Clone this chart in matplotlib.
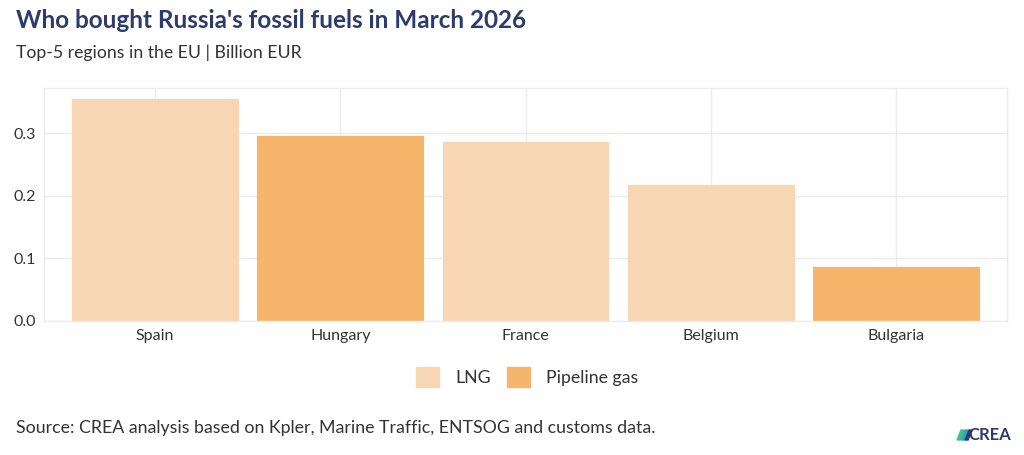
import matplotlib.pyplot as plt
from matplotlib.patches import Patch, Polygon

plt.rcParams['font.family'] = ['Lato', 'DejaVu Sans']

# ------------------ DATA ------------------ #
countries = ["Spain", "Hungary", "France", "Belgium", "Bulgaria"]
values = [0.354, 0.295, 0.285, 0.217, 0.086]
fuel = ["LNG", "Pipeline gas", "LNG", "LNG", "Pipeline gas"]

colors = {"LNG": "#f9d6b3", "Pipeline gas": "#f5b56b"}
navy = "#2d3b6c"
grid_c = "#ececec"

fig = plt.figure(figsize=(10.24, 4.55), dpi=100)
ax = fig.add_axes([44 / 1024, 1 - 321 / 455, (1007 - 44) / 1024, (321 - 88) / 455])

x = list(range(len(countries)))
ax.bar(x, values, width=0.895, color=[colors[f] for f in fuel],
       edgecolor=[colors[f] for f in fuel], linewidth=0.8, zorder=2)

ax.set_xlim(-0.6, 4.6)
ax.set_ylim(0, 0.372)
ax.set_yticks([0, 0.1, 0.2, 0.3])
ax.set_yticklabels(["0.0", "0.1", "0.2", "0.3"])
ax.set_xticks(x)
ax.set_xticklabels(countries)
ax.grid(True, color=grid_c, linewidth=1, zorder=0)
ax.tick_params(length=0, labelsize=11.5, labelcolor="#333333", pad=6)
for s in ax.spines.values():
    s.set_color(grid_c)
    s.set_linewidth(1)

# titles
fig.text(16 / 1024, 1 - 20 / 455, "Who bought Russia's fossil fuels in March 2026",
         fontsize=17.5, fontweight="bold", color=navy, va="center")
fig.text(16 / 1024, 1 - 53 / 455, "Top-5 regions in the EU | Billion EUR",
         fontsize=12.7, color="#333333", va="center")

# legend
handles = [Patch(facecolor=colors[k], edgecolor=colors[k], label=k) for k in ["LNG", "Pipeline gas"]]
fig.legend(handles=handles, loc="center", bbox_to_anchor=(0.515, 1 - 377 / 455),
           ncol=2, frameon=False, fontsize=12.8, handlelength=1.3, handleheight=1.3,
           columnspacing=0.9, handletextpad=0.9, labelcolor="#333333")

# source
fig.text(16 / 1024, 1 - 428 / 455,
         "Source: CREA analysis based on Kpler, Marine Traffic, ENTSOG and customs data.",
         fontsize=12.8, color="#333333", va="center")

# logo
fig.text(1011 / 1024, 1 - 435 / 455, "CREA", fontsize=12, fontweight="bold",
         color=navy, ha="right", va="center")
lx, ly = 957, 435
for dx, c in [(0, "#4cbf7a"), (4, "#2aa7c9"), (8, navy)]:
    pts = [(lx + dx, ly + 5), (lx + dx + 3, ly + 5), (lx + dx + 7, ly - 5), (lx + dx + 4, ly - 5)]
    fig.patches.append(Polygon([(px / 1024, 1 - py / 455) for px, py in pts],
                               closed=True, transform=fig.transFigure, color=c))

fig.savefig("out.png", dpi=100)
